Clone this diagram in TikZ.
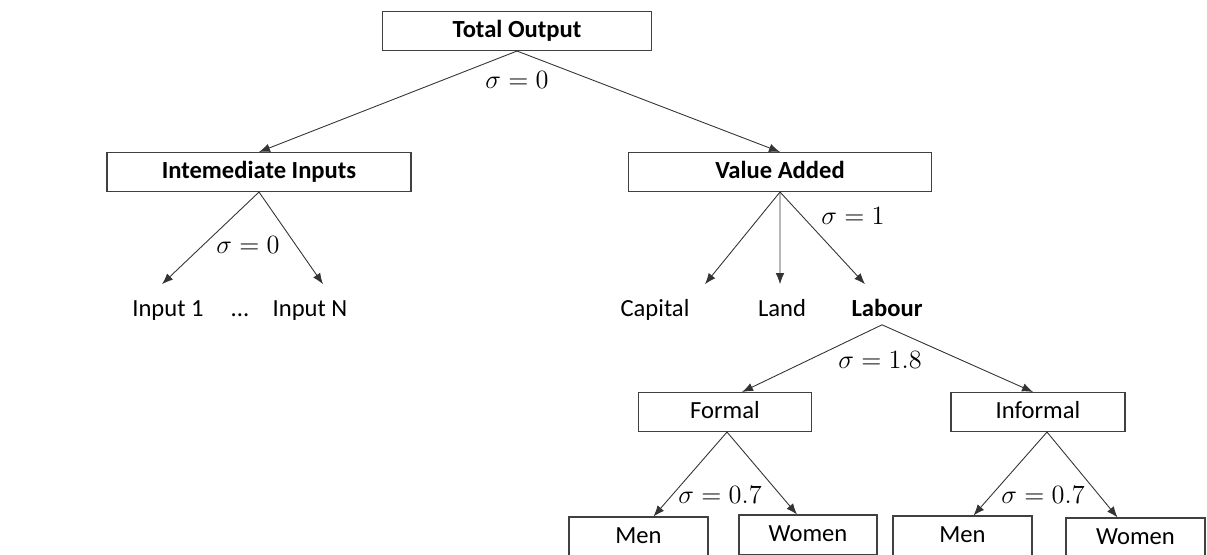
\RequirePackage{fix-cm}
\documentclass[tikz,border=0pt]{standalone}
\usepackage{fontspec}
\setmainfont{Carlito}
\usepackage{tikz}
\usetikzlibrary{arrows.meta}

\begin{document}
\begin{tikzpicture}[>={Latex[length=2.2mm,width=1.7mm]},
	box/.style={draw=black!75, line width=0.6pt, rectangle, minimum height=0.78cm, text height=1.75ex, text depth=0.3ex, font=\fontsize{14}{16}\selectfont},
	lbl/.style={text height=1.75ex, text depth=0.3ex, font=\fontsize{14}{16}\selectfont},
	sig/.style={font=\fontsize{15}{17}\selectfont},
	every edge/.style={draw=black!80, line width=0.5pt}]
	\useasboundingbox (0,0) rectangle (24.14,-11.08);
	% top level
	\node [box, minimum width=5.38cm] (total) at (10.34cm,-0.62cm) {\textbf{Total Output}};
	\node [box, minimum width=6.08cm] (inter) at (5.18cm,-3.44cm) {\textbf{Intemediate Inputs}};
	\node [box, minimum width=6.06cm] (value) at (15.6cm,-3.44cm) {\textbf{Value Added}};
	\node [sig] (sig0) at (10.34cm,-1.6cm) {$\sigma=0$};
	\path [->] (total.south) edge (inter.north);
	\path [->] (total.south) edge (value.north);
	% intermediate inputs
	\node [lbl] (input1) at (3.36cm,-6.2cm) {Input 1};
	\node [lbl] (dots) at (4.8cm,-6.2cm) {...};
	\node [lbl] (inputn) at (6.2cm,-6.2cm) {Input N};
	\node [sig] (siginter) at (4.96cm,-4.9cm) {$\sigma=0$};
	\path [->] (inter.south) edge ([xshift=-0.12cm,yshift=0.22cm]input1.north);
	\path [->] (inter.south) edge ([xshift=0.26cm,yshift=0.22cm]inputn.north);
	% value added
	\node [lbl] (capital) at (13.1cm,-6.2cm) {Capital};
	\node [lbl] (land) at (15.64cm,-6.2cm) {Land};
	\node [lbl] (labour) at (17.74cm,-6.2cm) {\textbf{Labour}};
	\node [sig] (sigvalue) at (17.06cm,-4.32cm) {$\sigma=1$};
	\path [->] (value.south) edge ([xshift=1cm,yshift=0.22cm]capital.north);
	\path [->] (value.south) edge ([xshift=-0.04cm,yshift=0.22cm]land.north);
	\path [->] (value.south) edge ([xshift=-0.44cm,yshift=0.22cm]labour.north);
	% labour
	\node [box, minimum width=3.46cm] (formal) at (14.5cm,-8.24cm) {Formal};
	\node [box, minimum width=3.48cm] (informal) at (20.76cm,-8.24cm) {Informal};
	\node [sig] (siglabour) at (17.6cm,-7.2cm) {$\sigma=1.8$};
	\path [->] ([xshift=-0.1cm]labour.south) edge ([xshift=0.34cm]formal.north);
	\path [->] ([xshift=-0.1cm]labour.south) edge ([xshift=-0.1cm]informal.north);
	% formal
	\node [box, minimum width=2.78cm, minimum height=0.8cm] (men1) at (12.77cm,-10.74cm) {Men};
	\node [box, minimum width=2.76cm, minimum height=0.8cm] (women1) at (16.16cm,-10.7cm) {Women};
	\node [sig] (sigformal) at (14.4cm,-9.9cm) {$\sigma=0.7$};
	\path [->] ([xshift=0.04cm]formal.south) edge ([xshift=0.3cm]men1.north);
	\path [->] ([xshift=0.04cm]formal.south) edge ([xshift=-0.22cm]women1.north);
	% informal
	\node [box, minimum width=2.78cm, minimum height=0.8cm] (men2) at (19.25cm,-10.72cm) {Men};
	\node [box, minimum width=2.78cm, minimum height=0.8cm] (women2) at (22.71cm,-10.76cm) {Women};
	\node [sig] (siginformal) at (20.86cm,-9.9cm) {$\sigma=0.7$};
	\path [->] ([xshift=0.18cm]informal.south) edge ([xshift=0.22cm]men2.north);
	\path [->] ([xshift=0.18cm]informal.south) edge ([xshift=-0.36cm]women2.north);
\end{tikzpicture}
\end{document}
